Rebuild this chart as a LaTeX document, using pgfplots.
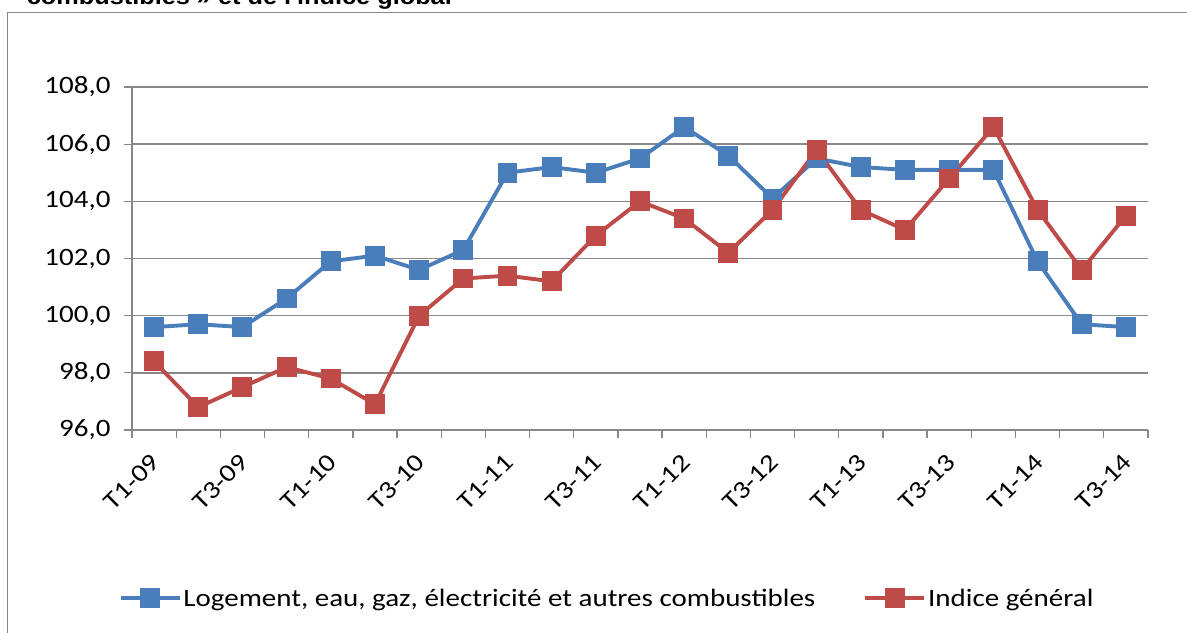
\documentclass[border=0pt]{standalone}
\usepackage{fontspec}
\setmainfont{Carlito}[FakeStretch=1.16]
\newfontfamily\titlefont{Liberation Sans}[FakeStretch=1.1]
\usepackage{pgfplots}
\pgfplotsset{compat=1.18}
\definecolor{cblue}{HTML}{4A7EBB}
\definecolor{cred}{HTML}{BE4B48}
\definecolor{cgrid}{HTML}{888888}
\begin{document}
\begin{tikzpicture}
\useasboundingbox (0,0) rectangle (1187bp,633bp);
\node[anchor=base east, inner sep=0pt, font=\titlefont\bfseries\fontsize{23bp}{27bp}\selectfont] at (452bp,628bp) {combustibles » et de l'indice global};
\draw[cgrid, line width=1.6bp] (7.5bp,-20bp) -- (7.5bp,620.5bp) -- (1210bp,620.5bp);
\begin{axis}[
  at={(132bp,203bp)}, anchor=south west,
  scale only axis, width=1016bp, height=343bp,
  xmin=0.5, xmax=23.5, ymin=96, ymax=108,
  axis lines*=left,
  axis line style={cgrid, line width=1.5bp},
  every tick/.style={cgrid, line width=1.3bp},
  tick align=outside,
  major tick length=8bp,
  ytick={96,98,...,108},
  ymajorgrids, grid style={cgrid, line width=1.5bp},
  xtick={0.5,1.5,...,23.5},
  xticklabels={},
  extra x ticks={1,3,5,7,9,11,13,15,17,19,21,23},
  extra x tick labels={T1-09,T3-09,T1-10,T3-10,T1-11,T3-11,T1-12,T3-12,T1-13,T3-13,T1-14,T3-14},
  extra x tick style={major tick length=0pt, xticklabel style={xshift=4bp, yshift=-26bp, rotate=45, anchor=east}},
  yticklabel style={xshift=-10bp},
  ticklabel style={font=\fontsize{25bp}{30bp}\selectfont},
  /pgf/number format/.cd, fixed, fixed zerofill, precision=1, use comma, assume math mode=true,
  /pgfplots/.cd,
  legend columns=2,
  legend style={at={(0.4675,-0.49)}, anchor=center, draw=none, font=\fontsize{25bp}{30bp}\selectfont, /tikz/every even column/.append style={column sep=46bp}},
  legend image code/.code={\draw[#1, mark repeat=2, mark phase=2] plot coordinates {(0bp,0bp)(29.5bp,0bp)(59bp,0bp)};},
  every axis plot/.append style={line width=3.9bp, mark=square*, mark size=8bp, mark options={solid, line width=0.4bp}},
]
\addplot[cblue, mark options={fill=cblue, draw=cblue}] coordinates {
(1,99.6)(2,99.7)(3,99.6)(4,100.6)(5,101.9)(6,102.1)(7,101.6)(8,102.3)(9,105.0)(10,105.2)(11,105.0)(12,105.5)
(13,106.6)(14,105.6)(15,104.1)(16,105.5)(17,105.2)(18,105.1)(19,105.1)(20,105.1)(21,101.9)(22,99.7)(23,99.6)};
\addlegendentry{Logement, eau, gaz, électricité et autres combustibles}
\addplot[cred, mark options={fill=cred, draw=cred}] coordinates {
(1,98.4)(2,96.8)(3,97.5)(4,98.2)(5,97.8)(6,96.9)(7,100.0)(8,101.3)(9,101.4)(10,101.2)(11,102.8)(12,104.0)
(13,103.4)(14,102.2)(15,103.7)(16,105.8)(17,103.7)(18,103.0)(19,104.8)(20,106.6)(21,103.7)(22,101.6)(23,103.5)};
\addlegendentry{Indice général}
\end{axis}
\end{tikzpicture}
\end{document}
